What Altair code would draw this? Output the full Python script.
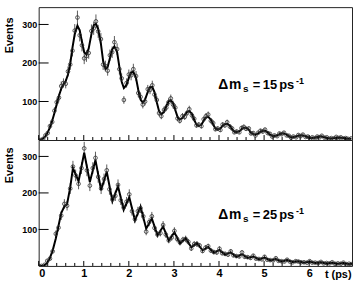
import altair as alt
import pandas as pd

FONT = "Liberation Sans"

# ---------------- top panel: dm_s = 15 ps^-1 ----------------
t15 = [0.00, 0.05, 0.10, 0.15, 0.20, 0.25, 0.30, 0.35, 0.40, 0.45,
       0.50, 0.55, 0.60, 0.65, 0.70, 0.75, 0.80, 0.86, 0.91, 0.96,
       1.01, 1.06, 1.11, 1.17, 1.22, 1.27, 1.32, 1.38, 1.43, 1.48,
       1.53, 1.58, 1.63, 1.68, 1.74, 1.79, 1.84, 1.89, 1.95, 2.00,
       2.05, 2.10, 2.16, 2.21, 2.26, 2.31, 2.36, 2.42, 2.47, 2.52,
       2.57, 2.62, 2.67, 2.72, 2.78, 2.83, 2.88, 2.93, 2.98, 3.03,
       3.08, 3.13, 3.19, 3.24, 3.29, 3.34, 3.40, 3.45, 3.50, 3.55,
       3.61, 3.66, 3.71, 3.76, 3.82, 3.87, 3.92, 3.97, 4.03, 4.08,
       4.13, 4.18, 4.24, 4.29, 4.34, 4.39, 4.45, 4.50, 4.55, 4.60,
       4.66, 4.71, 4.76, 4.81, 4.87, 4.92, 4.97, 5.02, 5.08, 5.13,
       5.18, 5.23, 5.29, 5.34, 5.39, 5.44, 5.50, 5.55, 5.60, 5.65,
       5.71, 5.76, 5.81, 5.86, 5.92, 5.97, 6.02, 6.07, 6.13, 6.18,
       6.23, 6.28, 6.34, 6.39, 6.44, 6.49, 6.55, 6.60, 6.65, 6.70,
       6.76, 6.81, 6.86, 6.93]
fit15 = [0, 1, 4, 10, 20, 33, 50, 70, 93, 115,
         133, 145, 153, 170, 198, 240, 275, 297, 285, 255,
         228, 222, 238, 275, 298, 302, 288, 250, 205, 185,
         190, 212, 235, 243, 228, 190, 152, 135, 143, 162,
         175, 177, 160, 130, 105, 97, 105, 125, 137, 138,
         124, 98, 75, 67, 73, 88, 100, 103, 96, 78,
         60, 53, 57, 65, 73, 75, 68, 52, 40, 36,
         40, 50, 58, 60, 53, 40, 30, 27, 30, 37,
         41, 42, 37, 28, 22, 20, 23, 28, 32, 32,
         27, 19, 15, 14, 17, 21, 24, 24, 20, 14,
         11, 10, 12, 15, 17, 17, 14, 10, 8, 7,
         9, 11, 12, 12, 10, 7, 5, 5, 6, 8,
         9, 9, 7, 5, 4, 4, 5, 6, 6, 6,
         5, 4, 3, 3]
n15 = [0, 0, 3, 12, 18, 36, 47, 76, 98, 110,
       140, 148, 146, 178, 196, 232, 284, 318, 272, 246,
       212, 218, 226, 283, 290, 308, 282, 262, 196, 192,
       180, 220, 228, 254, 236, 184, 160, 104, 148, 170,
       168, 184, 166, 122, 112, 92, 100, 132, 130, 142,
       118, 104, 70, 62, 78, 84, 98, 108, 92, 84,
       56, 50, 62, 60, 70, 80, 64, 55, 38, 40,
       36, 54, 62, 66, 50, 44, 28, 30, 26, 40,
       38, 46, 35, 30, 20, 22, 20, 31, 34, 29,
       30, 17, 18, 12, 19, 24, 22, 27, 18, 16,
       9, 12, 10, 17, 15, 19, 12, 11, 6, 9,
       7, 13, 10, 14, 8, 9, 4, 7, 5, 9,
       7, 11, 6, 7, 3, 5, 4, 8, 5, 7,
       4, 5, 3, 4]
e15 = [0, 0, 2, 3, 4, 6, 7, 9, 10, 10,
       12, 12, 12, 13, 14, 15, 17, 18, 16, 16,
       15, 15, 15, 17, 17, 18, 17, 16, 14, 14,
       13, 15, 15, 16, 15, 14, 13, 10, 12, 13,
       13, 14, 13, 11, 11, 10, 10, 11, 11, 12,
       11, 10, 8, 8, 9, 9, 10, 10, 10, 9,
       7, 7, 8, 8, 8, 9, 8, 7, 6, 6,
       6, 7, 8, 8, 7, 7, 5, 5, 5, 6,
       6, 7, 6, 5, 4, 5, 4, 6, 6, 5,
       5, 4, 4, 3, 4, 5, 5, 5, 4, 4,
       3, 3, 3, 4, 4, 4, 3, 3, 2, 3,
       3, 4, 3, 4, 3, 3, 2, 3, 2, 3,
       3, 3, 2, 3, 2, 2, 2, 3, 2, 3,
       2, 2, 2, 2]

# ---------------- bottom panel: dm_s = 25 ps^-1 ----------------
fit25_t = [0.00, 0.06, 0.13, 0.19, 0.25, 0.31, 0.38, 0.44, 0.50, 0.57, 0.63, 0.70,
           0.76, 0.885, 1.01, 1.135, 1.26, 1.385, 1.51, 1.635, 1.76, 1.885,
           2.01, 2.135, 2.26, 2.385, 2.51, 2.635, 2.76, 2.885, 3.01, 3.135,
           3.26, 3.385, 3.51, 3.635, 3.76, 3.885, 4.01, 4.135, 4.26, 4.385,
           4.51, 4.635, 4.76, 4.885, 5.01, 5.135, 5.26, 5.385, 5.51, 5.635,
           5.76, 5.885, 6.01, 6.135, 6.26, 6.385, 6.51, 6.635, 6.76, 6.885, 6.95]
fit25_v = [0, 0, 2, 9, 22, 42, 75, 110, 145, 163, 170, 215,
           268, 232, 310, 230, 290, 208, 258, 178, 218, 154,
           188, 125, 162, 102, 130, 84, 108, 70, 92, 62,
           76, 51, 63, 43, 52, 36, 44, 31, 37, 25,
           32, 22, 26, 18, 23, 15, 19, 12, 16, 11,
           13, 9, 12, 8, 10, 7, 9, 6, 8, 5, 6]
t25 = [0.00, 0.06, 0.13, 0.19, 0.25, 0.31, 0.38, 0.44, 0.50, 0.57, 0.63, 0.70,
       0.76, 0.82, 0.885, 0.95, 1.01, 1.07, 1.135, 1.20, 1.26, 1.32, 1.385, 1.45,
       1.51, 1.57, 1.635, 1.70, 1.76, 1.82, 1.885, 1.95, 2.01, 2.07, 2.135, 2.20,
       2.26, 2.32, 2.385, 2.45, 2.51, 2.57, 2.635, 2.70, 2.76, 2.82, 2.885, 2.95,
       3.01, 3.07, 3.135, 3.20, 3.26, 3.32, 3.385, 3.45, 3.51, 3.57, 3.635, 3.70,
       3.76, 3.82, 3.885, 3.95, 4.01, 4.07, 4.135, 4.20, 4.26, 4.32, 4.385, 4.45,
       4.51, 4.57, 4.635, 4.70, 4.76, 4.82, 4.885, 4.95, 5.01, 5.07, 5.135, 5.20,
       5.26, 5.32, 5.385, 5.45, 5.51, 5.57, 5.635, 5.70, 5.76, 5.82, 5.885, 5.95,
       6.01, 6.07, 6.135, 6.20, 6.26, 6.32, 6.385, 6.45, 6.51, 6.57, 6.635, 6.70,
       6.76, 6.82, 6.885, 6.93]
n25 = [0, 0, 3, 14, 20, 40, 88, 105, 138, 170, 165, 212,
       272, 248, 225, 268, 322, 262, 220, 268, 296, 244, 212, 238,
       262, 210, 182, 192, 222, 180, 160, 176, 196, 150, 128, 150,
       158, 136, 94, 120, 136, 104, 86, 90, 112, 86, 70, 78,
       96, 74, 64, 72, 74, 66, 48, 60, 60, 56, 41, 50,
       54, 42, 38, 37, 47, 35, 33, 31, 40, 29, 27, 26,
       37, 25, 24, 22, 28, 20, 19, 18, 25, 17, 16, 15,
       21, 14, 13, 12, 17, 12, 10, 13, 12, 10, 10, 9,
       13, 9, 9, 8, 11, 7, 8, 7, 10, 6, 7, 6,
       9, 5, 6, 5]
e25 = [0, 0, 2, 4, 4, 6, 9, 10, 12, 13, 13, 15,
       16, 16, 15, 16, 18, 16, 15, 16, 17, 16, 15, 15,
       16, 15, 13, 14, 15, 13, 13, 13, 14, 12, 11, 12,
       13, 12, 10, 11, 12, 10, 9, 9, 11, 9, 8, 9,
       10, 9, 8, 8, 9, 8, 7, 8, 8, 7, 6, 7,
       7, 6, 6, 6, 7, 6, 6, 6, 6, 5, 5, 5,
       6, 5, 5, 5, 5, 4, 4, 4, 5, 4, 4, 4,
       5, 4, 4, 3, 4, 3, 3, 4, 3, 3, 3, 3,
       4, 3, 3, 3, 3, 3, 3, 3, 3, 3, 2, 3,
       3, 2, 2, 2]

# axis ticks
x_major = [0, 1, 2, 3, 4, 5, 6]
x_minor = [0.2, 0.4, 0.6, 0.8, 1.2, 1.4, 1.6, 1.8, 2.2, 2.4, 2.6, 2.8,
           3.2, 3.4, 3.6, 3.8, 4.2, 4.4, 4.6, 4.8, 5.2, 5.4, 5.6, 5.8,
           6.2, 6.4, 6.6, 6.8]
y_major = [100, 200, 300]

ann15 = ["\u0394", "m", "s", "=", "15", "ps", "-1"]
ann25 = ["\u0394", "m", "s", "=", "25", "ps", "-1"]

W = 316
H_TOP = 134
H_BOT = 127
xs = alt.Scale(domain=[0, 6.95], nice=False, zero=False)
ys = alt.Scale(domain=[0, 345], nice=False, zero=False)


def panel(t, n, e, ft, fv, H, ann, bottom, base_y, title_y):
    m = min(len(t), len(n), len(e))
    pts = pd.DataFrame({"t": t[:m], "n": n[:m],
                        "lo": [n[i] - e[i] for i in range(m)],
                        "hi": [n[i] + e[i] for i in range(m)]})
    k = min(len(ft), len(fv))
    fit = pd.DataFrame({"t": ft[:k], "v": fv[:k]})

    if bottom:
        xaxis = alt.Axis(values=x_major, format="d", labelFont=FONT, labelFontSize=11,
                         labelFontWeight="bold", labelColor="black", labelPadding=2,
                         tickSize=0, domain=False, grid=False, title="t (ps)",
                         titleFont=FONT, titleFontSize=11, titleFontWeight="bold",
                         titleColor="black", titleAnchor="end", titleAlign="right",
                         titleBaseline="alphabetic", titleX=W - 1, titleY=12)
    else:
        xaxis = None
    yaxis = alt.Axis(values=y_major, labelFont=FONT, labelFontSize=9, labelFontWeight="bold",
                     labelColor="black", labelPadding=2, tickSize=0, domain=False, grid=False,
                     title="Events", titleFont=FONT, titleFontSize=11, titleFontWeight="bold",
                     titleColor="black", titleAngle=270, titleAlign="right",
                     titleBaseline="middle", titleX=-29, titleY=title_y)

    X = lambda: alt.X("t:Q", scale=xs, axis=xaxis)

    err = alt.Chart(pts).mark_rule(color="#333333", strokeWidth=0.8, clip=True).encode(
        x=X(), y=alt.Y("lo:Q", scale=ys, axis=yaxis), y2="hi:Q")
    line = alt.Chart(fit).mark_line(color="black", strokeWidth=2, clip=True).encode(
        x=X(), y=alt.Y("v:Q", scale=ys, axis=yaxis))
    dots = alt.Chart(pts).mark_point(shape="circle", filled=False, size=14, color="#333333",
                                     strokeWidth=0.8, opacity=1, clip=True).encode(
        x=X(), y=alt.Y("n:Q", scale=ys, axis=yaxis))

    xmaj = alt.Chart(pd.DataFrame({"t": x_major})).mark_rule(color="black", strokeWidth=1).encode(
        x=X(), y=alt.value(H), y2=alt.value(H - 5))
    xmin = alt.Chart(pd.DataFrame({"t": x_minor})).mark_rule(color="black", strokeWidth=1).encode(
        x=X(), y=alt.value(H), y2=alt.value(H - 3))
    ymaj = alt.Chart(pd.DataFrame({"v": y_major})).mark_rule(color="black", strokeWidth=1).encode(
        y=alt.Y("v:Q", scale=ys, axis=yaxis), x=alt.value(0), x2=alt.value(10))

    # annotation pieces: (x, baseline y offset, font size)
    pos = [(181, 0, 14), (192, 0, 14), (206, 3.3, 10), (216, 0, 13),
           (226, 0, 13), (242.5, 0, 13), (259.5, -4.7, 9)]
    texts = []
    for piece, (px, dy, fs) in zip(ann, pos):
        texts.append(
            alt.Chart(pd.DataFrame({"s": [piece]})).mark_text(
                align="left", baseline="alphabetic", font=FONT, fontSize=fs,
                fontWeight="bold", color="black").encode(
                x=alt.value(px), y=alt.value(base_y + dy), text="s:N"))

    return alt.layer(err, line, dots, xmaj, xmin, ymaj, *texts).properties(width=W, height=H)


top = panel(t15, n15, e15, t15, fit15, H_TOP, ann15, False, 82.7, 10)
bot = panel(t25, n25, e25, fit25_t, fit25_v, H_BOT, ann25, True, 79.3, 7)

chart = alt.vconcat(top, bot, spacing=0, bounds="flush").properties(
    padding={"left": 3, "top": 5, "right": 1, "bottom": 0}
).configure(font=FONT).configure_view(stroke="#222222", strokeWidth=1)

chart.save("out.html", embed_options={"renderer": "svg", "actions": False})
